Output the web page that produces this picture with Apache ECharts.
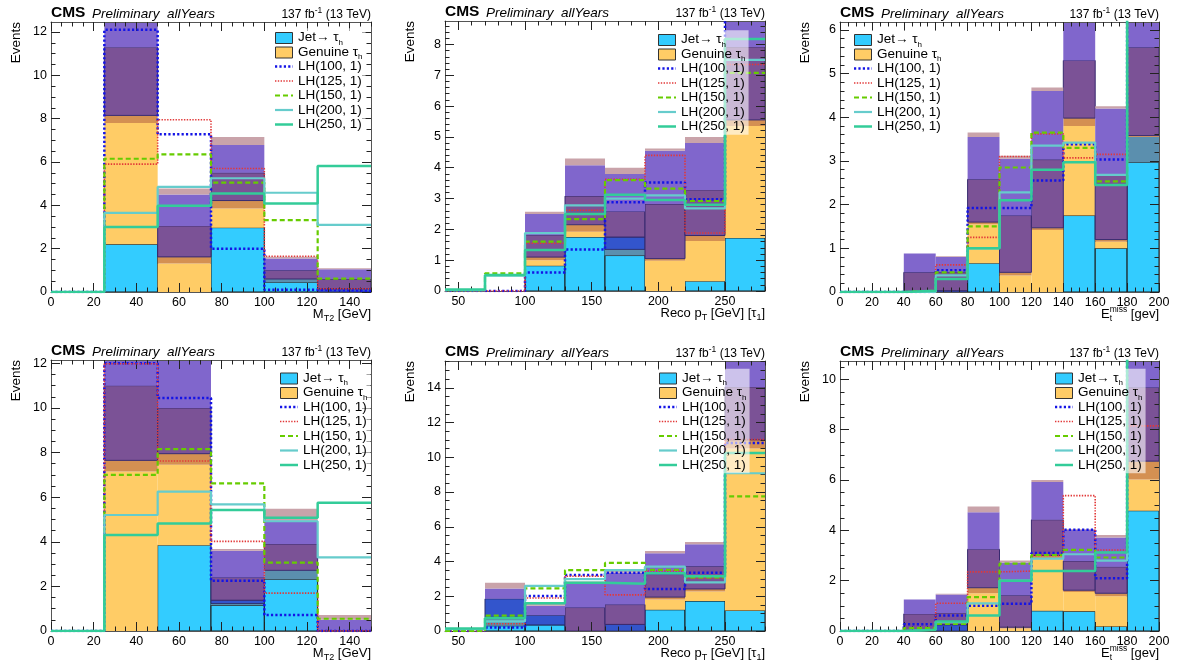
<!DOCTYPE html>
<html><head><meta charset="utf-8">
<script src="https://cdn.jsdelivr.net/npm/echarts@6/dist/echarts.min.js"></script>
<style>html,body{margin:0;padding:0;background:#fff}#c{width:1181px;height:669px}</style>
</head><body><div id="c"></div>
<script>
// ---------------- bin edges & tick labels ----------------
const MT2_EDGES = [0, 25, 50, 75, 100, 125, 150];
const PT_EDGES  = [40, 70, 100, 130, 160, 190, 220, 250, 280];
const MET_EDGES = [0, 20, 40, 60, 80, 100, 120, 140, 160, 180, 200];

const MT2_TICKS = [0, 20, 40, 60, 80, 100, 120, 140];
const PT_TICKS  = [50, 100, 150, 200, 250];
const MET_TICKS = [0, 20, 40, 60, 80, 100, 120, 140, 160, 180, 200];
const Y_TICKS_1 = [0, 2, 4, 6, 8, 10, 12];
const Y_TICKS_2 = [0, 1, 2, 3, 4, 5, 6, 7, 8];
const Y_TICKS_3 = [0, 1, 2, 3, 4, 5, 6];
const Y_TICKS_4 = [0, 2, 4, 6, 8, 10, 12];
const Y_TICKS_5 = [0, 2, 4, 6, 8, 10, 12, 14];
const Y_TICKS_6 = [0, 2, 4, 6, 8, 10];

const LH_NAMES = ['LH(100, 1)', 'LH(125, 1)', 'LH(150, 1)', 'LH(200, 1)', 'LH(250, 1)'];

// ---------------- panel 1 : M_T2 (top) ----------------
const P1_JET    = [0, 2.20, 0.00, 2.97, 0.45, 0.00];
const P1_STEEL  = [0, 0, 0, 0, 0.15, 0];
const P1_BLUE   = [0, 0, 0, 0, 0, 0.15];
const P1_GEN    = [0, 5.60, 1.32, 0.88, 0, 0];
const P1_BROWN  = [0, 0.35, 0.30, 0.37, 0, 0];
const P1_DP     = [0, 3.15, 1.43, 1.28, 0.40, 0.45];
const P1_PURPLE = [0, 1.70, 1.45, 1.28, 0.55, 0.45];
const P1_PINK   = [0, 0.20, 0.28, 0.37, 0.08, 0.05];
const P1_LH100 = [0, 12.10, 7.28, 2.00, 0.10, 0.05];
const P1_LH125 = [0, 5.90, 7.95, 5.70, 1.65, 0.15];
const P1_LH150 = [0, 6.15, 6.35, 5.05, 3.32, 0.62];
const P1_LH200 = [0, 3.65, 4.85, 5.25, 4.58, 3.10];
const P1_LH250 = [0, 3.00, 3.98, 4.55, 4.08, 5.82];

// ---------------- panel 2 : Reco pT (top) ----------------
const P2_JET    = [0, 0, 0.82, 1.75, 1.15, 0, 0.32, 1.72];
const P2_STEEL  = [0, 0, 0, 0, 0.20, 0, 0, 0];
const P2_BLUE   = [0, 0, 0, 0, 0.40, 0, 0, 0];
const P2_GEN    = [0, 0, 0.18, 0.17, 0, 0.98, 1.30, 3.63];
const P2_BROWN  = [0, 0, 0.10, 0.23, 0, 0.07, 0.18, 0.20];
const P2_DP     = [0, 0, 0.72, 0.93, 0.83, 1.77, 1.48, 2.37];
const P2_PURPLE = [0, 0, 0.68, 1.00, 1.22, 1.73, 1.52, 1.58];
const P2_PINK   = [0, 0, 0.07, 0.22, 0.20, 0.07, 0.20, 0.20];
const P2_LH100 = [0.00, 0.00, 0.60, 1.35, 2.88, 3.52, 2.98, 9.20];
const P2_LH125 = [0.00, 0.00, 1.55, 2.62, 3.62, 4.40, 1.88, 7.35];
const P2_LH150 = [0.03, 0.57, 1.60, 2.33, 3.60, 3.32, 2.92, 7.08];
const P2_LH200 = [0.03, 0.50, 1.88, 2.78, 3.00, 3.10, 2.68, 7.50];
const P2_LH250 = [0.05, 0.52, 1.33, 2.50, 3.12, 2.95, 2.80, 8.18];

// ---------------- panel 3 : E_t miss (top) ----------------
const P3_JET    = [0, 0, 0, 0, 0.66, 0, 0, 1.75, 1.00, 2.97];
const P3_STEEL  = [0, 0, 0, 0, 0, 0, 0, 0, 0, 0.58];
const P3_BLUE   = [0, 0, 0, 0.03, 0, 0, 0, 0, 0, 0];
const P3_GEN    = [0, 0, 0, 0, 0.89, 0.38, 1.42, 2.05, 0.15, 0];
const P3_BROWN  = [0, 0, 0, 0, 0.05, 0.07, 0.05, 0.18, 0.05, 0.03];
const P3_DP     = [0, 0, 0.45, 0.42, 0.98, 1.30, 1.56, 1.32, 1.50, 2.02];
const P3_PURPLE = [0, 0, 0.43, 0.35, 0.97, 1.30, 1.57, 1.30, 1.50, 1.40];
const P3_PINK   = [0, 0, 0, 0.02, 0.10, 0.07, 0.08, 0.10, 0.05, 0.10];
const P3_LH100 = [0, 0, 0.00, 0.50, 1.92, 1.92, 2.55, 3.38, 3.03, 7.0];
const P3_LH125 = [0, 0, 0.00, 0.62, 1.25, 3.10, 3.62, 3.07, 3.15, 6.8];
const P3_LH150 = [0, 0, 0.03, 0.45, 1.50, 2.85, 3.65, 3.30, 2.53, 6.6];
const P3_LH200 = [0, 0, 0.00, 0.38, 1.00, 2.28, 3.35, 3.42, 2.68, 6.5];
const P3_LH250 = [0, 0, 0.03, 0.30, 1.00, 2.10, 2.80, 2.97, 2.45, 7.5];

// ---------------- panel 4 : M_T2 (bottom) ----------------
const P4_JET    = [0, 0, 3.85, 1.15, 2.32, 0];
const P4_STEEL  = [0, 0, 0, 0.08, 0.40, 0];
const P4_BLUE   = [0, 0, 0, 0.15, 0, 0];
const P4_GEN    = [0, 7.15, 3.60, 0, 0, 0];
const P4_BROWN  = [0, 0.50, 0.50, 0, 0, 0];
const P4_DP     = [0, 3.35, 2.05, 1.02, 1.18, 0.05];
const P4_PURPLE = [0, 1.40, 2.10, 1.20, 1.05, 0.45];
const P4_PINK   = [0, 0.10, 0.10, 0.08, 0.53, 0.22];
const P4_LH100 = [0, 12.00, 10.45, 2.25, 0.72, 0.00];
const P4_LH125 = [0, 11.98, 7.62, 4.02, 1.70, 0.00];
const P4_LH150 = [0, 7.00, 8.15, 6.62, 3.07, 0.55];
const P4_LH200 = [0, 5.20, 6.25, 5.68, 4.92, 3.30];
const P4_LH250 = [0, 4.30, 4.82, 5.42, 5.08, 5.75];

// ---------------- panel 5 : Reco pT (bottom) ----------------
const P5_JET    = [0, 0.30, 0.35, 0, 0, 1.22, 1.72, 1.18];
const P5_STEEL  = [0, 0.50, 0, 0, 0, 0, 0, 0];
const P5_BLUE   = [0, 1.05, 0.55, 0, 0.38, 0, 0, 0];
const P5_GEN    = [0, 0, 0, 0, 0, 0.60, 0.56, 9.32];
const P5_BROWN  = [0, 0, 0, 0, 0, 0.13, 0.14, 0.50];
const P5_DP     = [0, 0, 0, 1.35, 1.14, 1.30, 1.30, 3.05];
const P5_PURPLE = [0, 0.60, 0.55, 1.40, 1.83, 1.23, 1.28, 1.95];
const P5_PINK   = [0, 0.33, 0.10, 0.10, 0.10, 0.12, 0.12, 0.20];
const P5_LH100 = [0.00, 0.20, 2.02, 3.22, 3.35, 2.42, 3.35, 10.82];
const P5_LH125 = [0.00, 0.42, 1.90, 3.15, 2.08, 3.45, 3.05, 11.02];
const P5_LH150 = [0.00, 0.88, 2.45, 3.50, 3.92, 3.52, 3.08, 7.75];
const P5_LH200 = [0.10, 0.55, 2.60, 2.98, 3.50, 3.70, 2.80, 9.08];
const P5_LH250 = [0.15, 0.75, 1.60, 2.78, 2.72, 3.32, 3.15, 10.25];

// ---------------- panel 6 : E_t miss (bottom) ----------------
const P6_JET    = [0, 0, 0, 0, 0, 0, 0.80, 0.78, 0.18, 4.78];
const P6_STEEL  = [0, 0, 0, 0, 0, 0, 0, 0, 0, 0];
const P6_BLUE   = [0, 0, 0, 0.25, 0, 0, 0, 0, 0, 0];
const P6_GEN    = [0, 0, 0, 0, 1.50, 0.10, 2.05, 0.77, 1.20, 1.24];
const P6_BROWN  = [0, 0, 0, 0, 0.22, 0.05, 0.15, 0.07, 0.12, 0.73];
const P6_DP     = [0, 0, 0.68, 0.47, 1.53, 1.27, 1.42, 1.16, 1.05, 2.93];
const P6_PURPLE = [0, 0, 0.57, 0.73, 1.47, 1.30, 1.50, 1.24, 1.17, 1.52];
const P6_PINK   = [0, 0, 0, 0.03, 0.23, 0.08, 0.08, 0.03, 0.10, 0.10];
const P6_LH100 = [0, 0, 0.27, 0.62, 1.00, 1.08, 3.10, 4.02, 2.10, 11.5];
const P6_LH125 = [0, 0, 0.05, 1.10, 2.35, 2.38, 3.00, 5.38, 3.22, 8.15];
const P6_LH150 = [0, 0, 0.12, 0.28, 1.35, 2.68, 3.02, 3.22, 2.92, 11.5];
const P6_LH200 = [0, 0, 0.05, 0.35, 1.10, 2.00, 2.88, 3.05, 2.80, 11.5];
const P6_LH250 = [0, 0, 0.05, 0.38, 0.62, 2.00, 2.38, 2.38, 3.12, 11.5];

// ---------------- styles ----------------
const FONT = "'Liberation Sans', Arial, Helvetica, sans-serif";
const COMPONENTS = [
  { name: 'Jet',     color: '#33ccff', stroke: '#1a1a1a' },
  { name: 'steel',   color: '#5b8fae', stroke: null },
  { name: 'blue',    color: '#3355cc', stroke: '#283070' },
  { name: 'Genuine', color: '#ffcc66', stroke: null },
  { name: 'brown',   color: '#d49052', stroke: null },
  { name: 'dpurple', color: '#7b5296', stroke: '#37296e' },
  { name: 'purple',  color: '#8066cc', stroke: null },
  { name: 'pink',    color: '#c9a3aa', stroke: null }
];
const LH_STYLES = [
  { color: '#1414e6', width: 2.5, type: [2.2, 2.2] },
  { color: '#e23838', width: 1.6, type: [1.4, 1.4] },
  { color: '#66cc00', width: 2.2, type: [5, 3] },
  { color: '#66cccc', width: 2.2, type: 'solid' },
  { color: '#33cc99', width: 2.5, type: 'solid' }
];

function minorSteps(a, b, s) { const r = []; for (let v = a; v <= b + 1e-9; v += s) r.push(+v.toFixed(4)); return r; }

const PANELS = [
  { grid: { left: 51, top: 22, width: 320, height: 270 }, edges: MT2_EDGES, xmin: 0, xmax: 150, ymax: 12.46,
    xTicks: MT2_TICKS, xMinor: 5, yTicks: Y_TICKS_1, yMinor: 0.5,
    stack: [P1_JET, P1_STEEL, P1_BLUE, P1_GEN, P1_BROWN, P1_DP, P1_PURPLE, P1_PINK],
    lh: [P1_LH100, P1_LH125, P1_LH150, P1_LH200, P1_LH250], xtitle: 'mt2', legend: { x: 275, y: 37.5 } },
  { grid: { left: 445, top: 21, width: 320, height: 270 }, edges: PT_EDGES, xmin: 40, xmax: 280, ymax: 8.76,
    xTicks: PT_TICKS, xMinor: 10, yTicks: Y_TICKS_2, yMinor: 0.2,
    stack: [P2_JET, P2_STEEL, P2_BLUE, P2_GEN, P2_BROWN, P2_DP, P2_PURPLE, P2_PINK],
    lh: [P2_LH100, P2_LH125, P2_LH150, P2_LH200, P2_LH250], xtitle: 'pt', legend: { x: 658, y: 39.5 } },
  { grid: { left: 840, top: 22, width: 319, height: 270 }, edges: MET_EDGES, xmin: 0, xmax: 200, ymax: 6.18,
    xTicks: MET_TICKS, xMinor: 5, yTicks: Y_TICKS_3, yMinor: 0.2,
    stack: [P3_JET, P3_STEEL, P3_BLUE, P3_GEN, P3_BROWN, P3_DP, P3_PURPLE, P3_PINK],
    lh: [P3_LH100, P3_LH125, P3_LH150, P3_LH200, P3_LH250], xtitle: 'met', legend: { x: 854, y: 39.5 } },
  { grid: { left: 51, top: 360, width: 320, height: 271 }, edges: MT2_EDGES, xmin: 0, xmax: 150, ymax: 12.15,
    xTicks: MT2_TICKS, xMinor: 5, yTicks: Y_TICKS_4, yMinor: 0.5,
    stack: [P4_JET, P4_STEEL, P4_BLUE, P4_GEN, P4_BROWN, P4_DP, P4_PURPLE, P4_PINK],
    lh: [P4_LH100, P4_LH125, P4_LH150, P4_LH200, P4_LH250], xtitle: 'mt2', legend: { x: 280, y: 378 } },
  { grid: { left: 445, top: 361, width: 320, height: 270 }, edges: PT_EDGES, xmin: 40, xmax: 280, ymax: 15.54,
    xTicks: PT_TICKS, xMinor: 10, yTicks: Y_TICKS_5, yMinor: 0.5,
    stack: [P5_JET, P5_STEEL, P5_BLUE, P5_GEN, P5_BROWN, P5_DP, P5_PURPLE, P5_PINK],
    lh: [P5_LH100, P5_LH125, P5_LH150, P5_LH200, P5_LH250], xtitle: 'pt', legend: { x: 659, y: 378 } },
  { grid: { left: 840, top: 361, width: 319, height: 270 }, edges: MET_EDGES, xmin: 0, xmax: 200, ymax: 10.73,
    xTicks: MET_TICKS, xMinor: 5, yTicks: Y_TICKS_6, yMinor: 0.5,
    stack: [P6_JET, P6_STEEL, P6_BLUE, P6_GEN, P6_BROWN, P6_DP, P6_PURPLE, P6_PINK],
    lh: [P6_LH100, P6_LH125, P6_LH150, P6_LH200, P6_LH250], xtitle: 'met', legend: { x: 1055, y: 378 } }
];

// ---------------- text helpers ----------------
const mctx = document.createElement('canvas').getContext('2d');
function fontStr(sg) { return (sg.st || '') + ' ' + sg.s + 'px ' + FONT; }
function tw(sg) { mctx.font = fontStr(sg); return mctx.measureText(sg.t).width; }
function segWidth(segs) {
  let cx = 0, held = 0;
  segs.forEach(sg => { const w = tw(sg); if (sg.hold) { held = w; } else { cx += Math.max(w, held); held = 0; } });
  return cx;
}
function richLabel(segs, x, baseY, align) {
  let cx = 0, held = 0;
  const pos = segs.map(sg => { const w = tw(sg); const p = cx; if (sg.hold) { held = w; } else { cx += Math.max(w, held); held = 0; } return p; });
  const start = align === 'right' ? x - cx : x;
  return segs.map((sg, i) => ({
    type: 'text', z: 22, x: start + pos[i], y: baseY + (sg.dy || 0) - 0.35 * sg.s,
    style: { text: sg.t, font: fontStr(sg), fill: '#000', align: 'left', verticalAlign: 'middle' }
  }));
}
const XTITLES = {
  mt2: [{ t: 'M', s: 13 }, { t: 'T2', s: 9, dy: 3 }, { t: ' [GeV]', s: 13 }],
  pt:  [{ t: 'Reco p', s: 13 }, { t: 'T', s: 9, dy: 3 }, { t: ' [GeV] [τ', s: 13 }, { t: '1', s: 9, dy: 3 }, { t: ']', s: 13 }],
  met: [{ t: 'E', s: 13 }, { t: 'miss', s: 8.5, dy: -6, hold: true }, { t: 't', s: 8.5, dy: 3 }, { t: ' [gev]', s: 13 }]
};
const LEG_FS = 13.5;
const LEGEND_ITEMS = [
  { kind: 'box', color: '#33ccff', label: [{ t: 'Jet→ τ', s: LEG_FS }, { t: 'h', s: 8, dy: 3 }] },
  { kind: 'box', color: '#ffcc66', label: [{ t: 'Genuine τ', s: LEG_FS }, { t: 'h', s: 8, dy: 3 }] }
].concat(LH_NAMES.map((n, i) => ({ kind: 'line', style: i, label: [{ t: n, s: LEG_FS }] })));

// ---------------- build option ----------------
const grids = [], xAxes = [], yAxes = [], series = [], graphics = [];

PANELS.forEach((P, pi) => {
  grids.push(P.grid);
  const lineOn = { show: true, onZero: false, lineStyle: { color: '#555', width: 1 } };
  const lineOff = { show: false, onZero: false };
  const tickStyle = { color: '#222', width: 1 };
  const xBase = { gridIndex: pi, type: 'value', min: P.xmin, max: P.xmax, splitLine: { show: false }, z: 2 };
  const yBase = { gridIndex: pi, type: 'value', min: 0, max: P.ymax, splitLine: { show: false }, z: 2 };
  const xMinorVals = minorSteps(P.xmin, P.xmax, P.xMinor);
  const yMinorVals = minorSteps(0, P.ymax, P.yMinor);
  const xi = xAxes.length, yi = yAxes.length;
  const labelStyle = { fontFamily: FONT, fontSize: 12.5, color: '#000' };
  xAxes.push(Object.assign({}, xBase, { position: 'bottom', axisLine: lineOn,
    axisTick: { show: true, inside: true, length: 9, customValues: P.xTicks, lineStyle: tickStyle },
    axisLabel: Object.assign({ show: true, customValues: P.xTicks, margin: 4 }, labelStyle) }));
  xAxes.push(Object.assign({}, xBase, { position: 'bottom', axisLine: lineOff,
    axisTick: { show: true, inside: true, length: 4.5, customValues: xMinorVals, lineStyle: tickStyle }, axisLabel: { show: false } }));
  xAxes.push(Object.assign({}, xBase, { position: 'top', axisLine: lineOn,
    axisTick: { show: true, inside: true, length: 9, customValues: P.xTicks, lineStyle: tickStyle }, axisLabel: { show: false } }));
  xAxes.push(Object.assign({}, xBase, { position: 'top', axisLine: lineOff,
    axisTick: { show: true, inside: true, length: 4.5, customValues: xMinorVals, lineStyle: tickStyle }, axisLabel: { show: false } }));
  yAxes.push(Object.assign({}, yBase, { position: 'left', axisLine: lineOn,
    axisTick: { show: true, inside: true, length: 9, customValues: P.yTicks, lineStyle: tickStyle },
    axisLabel: Object.assign({ show: true, customValues: P.yTicks, margin: 4 }, labelStyle) }));
  yAxes.push(Object.assign({}, yBase, { position: 'left', axisLine: lineOff,
    axisTick: { show: true, inside: true, length: 4.5, customValues: yMinorVals, lineStyle: tickStyle }, axisLabel: { show: false } }));
  yAxes.push(Object.assign({}, yBase, { position: 'right', axisLine: lineOn,
    axisTick: { show: true, inside: true, length: 9, customValues: P.yTicks, lineStyle: tickStyle }, axisLabel: { show: false } }));
  yAxes.push(Object.assign({}, yBase, { position: 'right', axisLine: lineOff,
    axisTick: { show: true, inside: true, length: 4.5, customValues: yMinorVals, lineStyle: tickStyle }, axisLabel: { show: false } }));

  // stacked histogram components
  const nb = P.edges.length - 1;
  const cum = new Array(nb).fill(0);
  COMPONENTS.forEach((C, ci) => {
    const vals = P.stack[ci];
    const data = [];
    for (let b = 0; b < nb; b++) {
      const h = vals[b];
      if (h > 0) data.push([P.edges[b], P.edges[b + 1], cum[b], cum[b] + h]);
      cum[b] += h;
    }
    series.push({
      type: 'custom', name: C.name, xAxisIndex: xi, yAxisIndex: yi, z: 1, clip: true,
      itemStyle: { color: C.color, borderColor: C.stroke || C.color, borderWidth: C.stroke ? 1 : 0 },
      encode: { x: [0, 1], y: [2, 3] },
      renderItem: function (params, api) {
        const p0 = api.coord([api.value(0), api.value(2)]);
        const p1 = api.coord([api.value(1), api.value(3)]);
        const cs = params.coordSys;
        const shape = echarts.graphic.clipRectByRect(
          { x: p0[0], y: p1[1], width: p1[0] - p0[0], height: p0[1] - p1[1] },
          { x: cs.x, y: cs.y, width: cs.width, height: cs.height });
        return shape && { type: 'rect', shape: shape, style: api.style() };
      },
      data: data
    });
  });

  // signal lines (step histograms)
  P.lh.forEach((vals, li) => {
    const S = LH_STYLES[li];
    const data = vals.map((v, b) => [P.edges[b], v]);
    data.push([P.edges[nb], vals[nb - 1]]);
    series.push({
      type: 'line', name: LH_NAMES[li], xAxisIndex: xi, yAxisIndex: yi, z: 3, step: 'end',
      symbol: 'none', clip: true, color: S.color,
      lineStyle: { color: S.color, width: S.width, type: S.type },
      data: data
    });
  });

  // legend (drawn as graphic elements)
  const L = P.legend, rowH = 14.5, iconW = 17, iconH = 11;
  const textX = L.x + iconW + 6;
  const maxW = Math.max(...LEGEND_ITEMS.map(it => segWidth(it.label)));
  graphics.push({ type: 'rect', z: 21, shape: { x: L.x - 3, y: L.y - rowH / 2 - 2, width: textX - L.x + maxW + 6, height: rowH * LEGEND_ITEMS.length + 3 },
    style: { fill: 'rgba(255,255,255,0.6)' } });
  LEGEND_ITEMS.forEach((it, k) => {
    const cy = L.y + k * rowH;
    if (it.kind === 'box') {
      graphics.push({ type: 'rect', z: 22, shape: { x: L.x + 0.5, y: cy - iconH / 2 + 0.5, width: iconW, height: iconH },
        style: { fill: it.color, stroke: '#333', lineWidth: 1 } });
    } else {
      const S = LH_STYLES[it.style];
      graphics.push({ type: 'line', z: 22, shape: { x1: L.x, y1: cy, x2: L.x + iconW + 1, y2: cy },
        style: { stroke: S.color, lineWidth: S.width, lineDash: S.type === 'solid' ? null : S.type } });
    }
    graphics.push(...richLabel(it.label, textX, cy + 0.35 * LEG_FS, 'left'));
  });

  // texts
  const g = P.grid, right = g.left + g.width, bottom = g.top + g.height;
  graphics.push(...richLabel([{ t: 'CMS', s: 15.5, st: 'bold' }], g.left, g.top - 3.5, 'left'));
  graphics.push(...richLabel([{ t: 'Preliminary  allYears', s: 13.5, st: 'italic' }], g.left + 41, g.top - 3.5, 'left'));
  graphics.push(...richLabel([{ t: '137 fb', s: 12 }, { t: '-1', s: 8.5, dy: -5 }, { t: ' (13 TeV)', s: 12 }], right, g.top - 3.5, 'right'));
  graphics.push(...richLabel(XTITLES[P.xtitle], right, bottom + 27, 'right'));
  graphics.push({ type: 'text', z: 22, x: g.left - 35, y: g.top, rotation: Math.PI / 2,
    style: { text: 'Events', font: '13.5px ' + FONT, fill: '#000', align: 'right', verticalAlign: 'middle' } });
});

const chart = echarts.init(document.getElementById('c'), null, { renderer: 'canvas' });
chart.setOption({
  backgroundColor: '#fff', animation: false,
  grid: grids, xAxis: xAxes, yAxis: yAxes, series: series, graphic: graphics
});
</script></body></html>
